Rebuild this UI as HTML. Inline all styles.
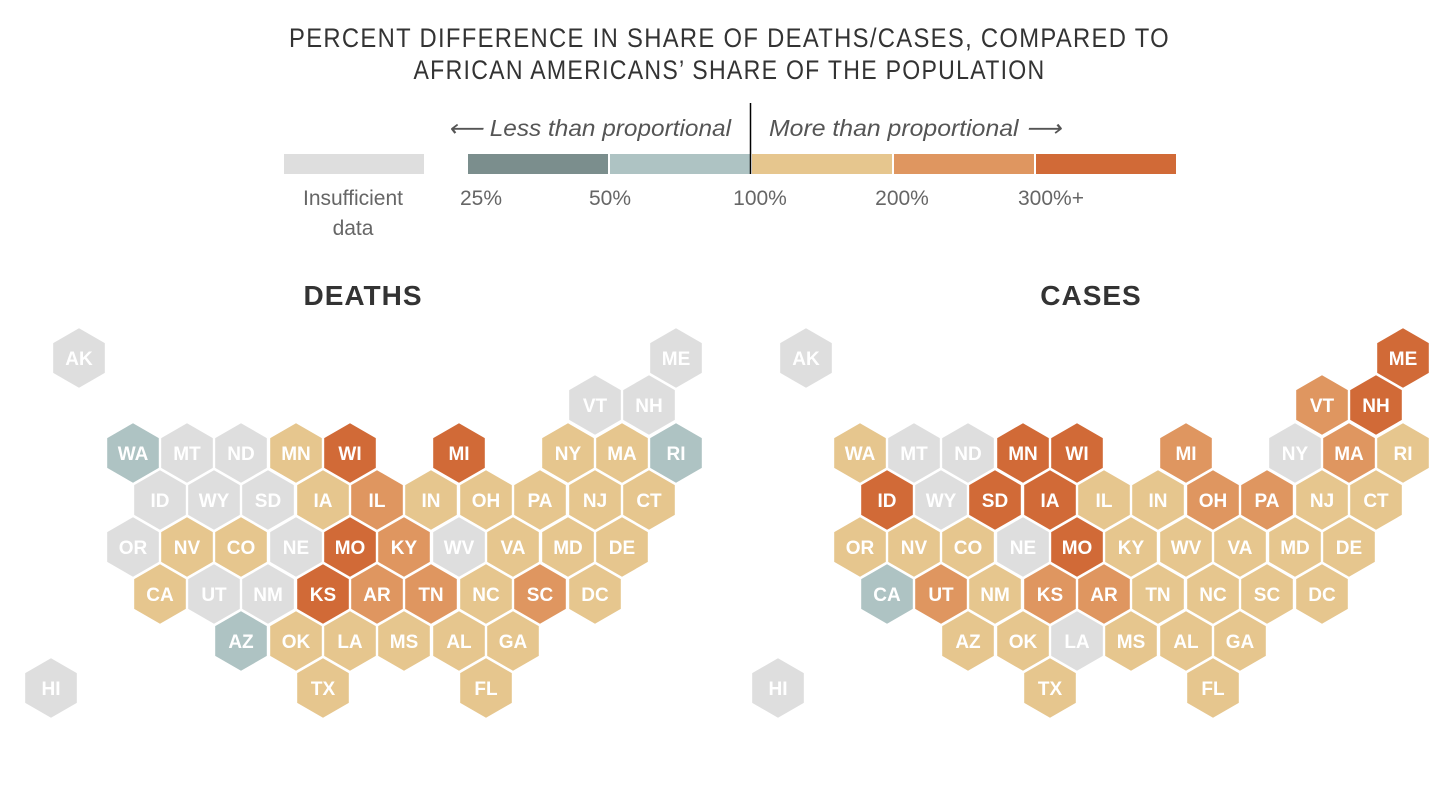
<!DOCTYPE html>
<html><head><meta charset="utf-8"><style>
html,body{margin:0;padding:0;background:#fff;width:1454px;height:806px;overflow:hidden}
svg{display:block}
.t{font-family:"Liberation Sans",sans-serif;}
</style></head><body>
<svg id="s" width="1454" height="806" viewBox="0 0 1454 806" xmlns="http://www.w3.org/2000/svg">
<g class="t" fill="#333">
<text x="729.5" y="47" font-size="27" text-anchor="middle" textLength="881" lengthAdjust="spacingAndGlyphs" letter-spacing="1.5">PERCENT DIFFERENCE IN SHARE OF DEATHS/CASES, COMPARED TO</text>
<text x="729.5" y="79" font-size="27" text-anchor="middle" textLength="632" lengthAdjust="spacingAndGlyphs" letter-spacing="1.5">AFRICAN AMERICANS’ SHARE OF THE POPULATION</text>
</g>
<g class="t" fill="#555" font-size="23" font-style="italic">
<text x="448" y="136" textLength="283" lengthAdjust="spacingAndGlyphs">⟵ Less than proportional</text>
<text x="769" y="136" textLength="292" lengthAdjust="spacingAndGlyphs">More than proportional ⟶</text>
</g>
<rect x="284" y="154" width="140" height="20" fill="#dedede"/>
<rect x="468" y="154" width="140" height="20" fill="#7b8e8d"/>
<rect x="610" y="154" width="140" height="20" fill="#aec3c3"/>
<rect x="752" y="154" width="140" height="20" fill="#e6c68e"/>
<rect x="894" y="154" width="140" height="20" fill="#df9660"/>
<rect x="1036" y="154" width="140" height="20" fill="#d16a37"/>
<line x1="750.5" y1="103" x2="750.5" y2="174" stroke="#000" stroke-width="1.5"/>
<g class="t" fill="#666" font-size="21">
<text x="353" y="205" text-anchor="middle">Insufficient</text>
<text x="353" y="235" text-anchor="middle">data</text>
<text x="481" y="205" text-anchor="middle">25%</text>
<text x="610" y="205" text-anchor="middle">50%</text>
<text x="760" y="205" text-anchor="middle">100%</text>
<text x="902" y="205" text-anchor="middle">200%</text>
<text x="1051" y="205" text-anchor="middle">300%+</text>
</g>
<g class="t" fill="#333" font-size="28" font-weight="bold" text-anchor="middle" letter-spacing="1">
<text x="363" y="305">DEATHS</text>
<text x="1091" y="305">CASES</text>
</g>
<g id="maps"></g>
</svg>
<script>
var C={g:"#dedede",dt:"#7b8e8d",lt:"#aec3c3",lo:"#e6c68e",mo:"#df9660",do:"#d16a37"};
var P={AK:[79,358],ME:[676,358],VT:[595,405],NH:[649,405],
WA:[133,453],MT:[187,453],ND:[241,453],MN:[296,453],WI:[350,453],MI:[459,453],NY:[568,453],MA:[622,453],RI:[676,453],
ID:[160,500],WY:[214,500],SD:[268,500],IA:[323,500],IL:[377,500],IN:[431,500],OH:[486,500],PA:[540,500],NJ:[595,500],CT:[649,500],
OR:[133,547],NV:[187,547],CO:[241,547],NE:[296,547],MO:[350,547],KY:[404,547],WV:[459,547],VA:[513,547],MD:[568,547],DE:[622,547],
CA:[160,594],UT:[214,594],NM:[268,594],KS:[323,594],AR:[377,594],TN:[431,594],NC:[486,594],SC:[540,594],DC:[595,594],
AZ:[241,641],OK:[296,641],LA:[350,641],MS:[404,641],AL:[459,641],GA:[513,641],
HI:[51,688],TX:[323,688],FL:[486,688]};
var D={AK:"g",ME:"g",VT:"g",NH:"g",WA:"lt",MT:"g",ND:"g",MN:"lo",WI:"do",MI:"do",NY:"lo",MA:"lo",RI:"lt",
ID:"g",WY:"g",SD:"g",IA:"lo",IL:"mo",IN:"lo",OH:"lo",PA:"lo",NJ:"lo",CT:"lo",
OR:"g",NV:"lo",CO:"lo",NE:"g",MO:"do",KY:"mo",WV:"g",VA:"lo",MD:"lo",DE:"lo",
CA:"lo",UT:"g",NM:"g",KS:"do",AR:"mo",TN:"mo",NC:"lo",SC:"mo",DC:"lo",
AZ:"lt",OK:"lo",LA:"lo",MS:"lo",AL:"lo",GA:"lo",HI:"g",TX:"lo",FL:"lo"};
var K={AK:"g",ME:"do",VT:"mo",NH:"do",WA:"lo",MT:"g",ND:"g",MN:"do",WI:"do",MI:"mo",NY:"g",MA:"mo",RI:"lo",
ID:"do",WY:"g",SD:"do",IA:"do",IL:"lo",IN:"lo",OH:"mo",PA:"mo",NJ:"lo",CT:"lo",
OR:"lo",NV:"lo",CO:"lo",NE:"g",MO:"do",KY:"lo",WV:"lo",VA:"lo",MD:"lo",DE:"lo",
CA:"lt",UT:"mo",NM:"lo",KS:"mo",AR:"mo",TN:"lo",NC:"lo",SC:"lo",DC:"lo",
AZ:"lo",OK:"lo",LA:"g",MS:"lo",AL:"lo",GA:"lo",HI:"g",TX:"lo",FL:"lo"};
var R=29.8,h="";
function hex(cx,cy){var p=[];for(var i=0;i<6;i++){var a=Math.PI/180*(60*i-90);p.push((cx+R*Math.cos(a)).toFixed(1)+","+(cy+R*Math.sin(a)).toFixed(1));}return p.join(" ");}
[[D,0],[K,727]].forEach(function(m){for(var s in P){var x=P[s][0]+m[1],y=P[s][1];
h+='<polygon points="'+hex(x,y)+'" fill="'+C[m[0][s]]+'"/>';
h+='<text x="'+x+'" y="'+(y+7)+'" text-anchor="middle" font-family="Liberation Sans,sans-serif" font-weight="bold" font-size="19" fill="#fff">'+s+'</text>';}});
document.getElementById("maps").innerHTML=h;
</script>
</body></html>
